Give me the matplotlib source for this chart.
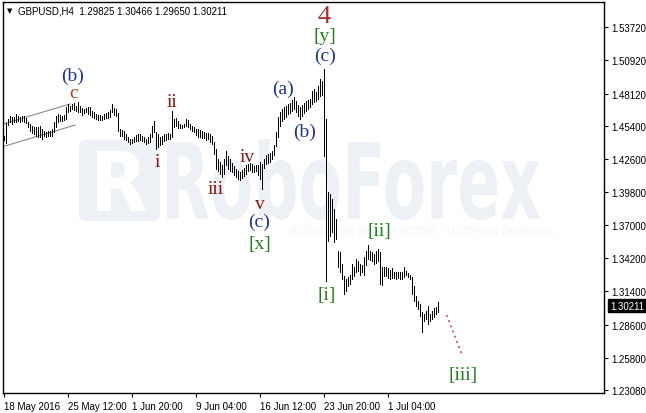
import numpy as np
import matplotlib
matplotlib.use("Agg")
import matplotlib.pyplot as plt
import matplotlib.transforms as mtransforms
from matplotlib.textpath import TextPath
from matplotlib.patches import PathPatch, FancyBboxPatch
from matplotlib.font_manager import FontProperties

# ---------------------------------------------------------------
# GBPUSD H4, one entry per bar (high / low)
# ---------------------------------------------------------------
highs = [
    1.4453, 1.4563, 1.4597, 1.4622, 1.4614, 1.4614, 1.4639, 1.4622, 1.4614, 1.4622,
    1.4622, 1.4605, 1.4572, 1.4555, 1.4538, 1.4529, 1.4529, 1.4529, 1.4538, 1.4513,
    1.4496, 1.4487, 1.4496, 1.4496, 1.4513, 1.4572, 1.4622, 1.4639, 1.4631, 1.4622,
    1.4631, 1.4698, 1.4724, 1.4707, 1.4724, 1.4732, 1.4707, 1.4741, 1.4707, 1.4690,
    1.4682, 1.4690, 1.4698, 1.4698, 1.4665, 1.4656, 1.4639, 1.4631, 1.4631, 1.4622,
    1.4639, 1.4648, 1.4656, 1.4673, 1.4724, 1.4690, 1.4682, 1.4648, 1.4513, 1.4504,
    1.4496, 1.4470, 1.4445, 1.4428, 1.4428, 1.4445, 1.4462, 1.4470, 1.4470, 1.4453,
    1.4445, 1.4428, 1.4445, 1.4470, 1.4538, 1.4580, 1.4487, 1.4470, 1.4445, 1.4453,
    1.4470, 1.4470, 1.4479, 1.4470, 1.4665, 1.4597, 1.4605, 1.4580, 1.4555, 1.4546,
    1.4555, 1.4597, 1.4589, 1.4555, 1.4538, 1.4529, 1.4513, 1.4513, 1.4504, 1.4496,
    1.4487, 1.4479, 1.4479, 1.4470, 1.4453, 1.4403, 1.4344, 1.4259, 1.4234, 1.4208,
    1.4259, 1.4327, 1.4284, 1.4259, 1.4225, 1.4200, 1.4175, 1.4158, 1.4149, 1.4166,
    1.4183, 1.4208, 1.4217, 1.4225, 1.4217, 1.4200, 1.4208, 1.4208, 1.4234, 1.4217,
    1.4259, 1.4293, 1.4301, 1.4310, 1.4327, 1.4377, 1.4487, 1.4614, 1.4656, 1.4682,
    1.4698, 1.4707, 1.4724, 1.4732, 1.4758, 1.4783, 1.4749, 1.4715, 1.4698, 1.4715,
    1.4732, 1.4749, 1.4758, 1.4766, 1.4834, 1.4850, 1.4825, 1.4876, 1.4935, 1.4918,
    1.5019, 1.4597, 1.3980, 1.3963, 1.3921, 1.3837, 1.3752, 1.3482, 1.3473, 1.3372,
    1.3270, 1.3245, 1.3262, 1.3279, 1.3372, 1.3346, 1.3414, 1.3397, 1.3372, 1.3363,
    1.3431, 1.3482, 1.3532, 1.3482, 1.3473, 1.3456, 1.3482, 1.3499, 1.3473, 1.3346,
    1.3346, 1.3346, 1.3338, 1.3321, 1.3338, 1.3304, 1.3304, 1.3304, 1.3304, 1.3304,
    1.3346, 1.3313, 1.3296, 1.3279, 1.3262, 1.3186, 1.3101, 1.3059, 1.3034, 1.2966,
    1.2949, 1.2975, 1.3017, 1.2949, 1.2975, 1.3000, 1.3008, 1.3051,
]
lows = [
    1.4420, 1.4394, 1.4546, 1.4572, 1.4555, 1.4572, 1.4572, 1.4580, 1.4572, 1.4580,
    1.4572, 1.4563, 1.4529, 1.4496, 1.4479, 1.4470, 1.4453, 1.4445, 1.4445, 1.4428,
    1.4453, 1.4445, 1.4453, 1.4453, 1.4453, 1.4487, 1.4529, 1.4572, 1.4580, 1.4580,
    1.4589, 1.4597, 1.4656, 1.4665, 1.4682, 1.4673, 1.4665, 1.4656, 1.4656, 1.4631,
    1.4648, 1.4656, 1.4639, 1.4631, 1.4614, 1.4605, 1.4597, 1.4589, 1.4589, 1.4589,
    1.4597, 1.4605, 1.4605, 1.4614, 1.4656, 1.4631, 1.4622, 1.4496, 1.4453, 1.4453,
    1.4428, 1.4420, 1.4403, 1.4386, 1.4394, 1.4403, 1.4411, 1.4411, 1.4420, 1.4411,
    1.4403, 1.4386, 1.4394, 1.4403, 1.4445, 1.4487, 1.4344, 1.4360, 1.4377, 1.4386,
    1.4411, 1.4420, 1.4428, 1.4428, 1.4445, 1.4529, 1.4538, 1.4521, 1.4521, 1.4521,
    1.4529, 1.4538, 1.4529, 1.4513, 1.4496, 1.4487, 1.4462, 1.4445, 1.4445, 1.4436,
    1.4436, 1.4420, 1.4428, 1.4403, 1.4386, 1.4301, 1.4175, 1.4158, 1.4132, 1.4107,
    1.4132, 1.4208, 1.4175, 1.4158, 1.4149, 1.4124, 1.4107, 1.4090, 1.4082, 1.4098,
    1.4115, 1.4132, 1.4158, 1.4166, 1.4149, 1.4149, 1.4158, 1.4124, 1.4090, 1.4006,
    1.4183, 1.4217, 1.4225, 1.4234, 1.4259, 1.4293, 1.4369, 1.4445, 1.4538, 1.4580,
    1.4597, 1.4614, 1.4639, 1.4648, 1.4665, 1.4682, 1.4656, 1.4622, 1.4597, 1.4622,
    1.4648, 1.4665, 1.4682, 1.4698, 1.4724, 1.4741, 1.4749, 1.4766, 1.4791, 1.4800,
    1.4284, 1.3228, 1.3566, 1.3608, 1.3642, 1.3558, 1.3583, 1.3346, 1.3304, 1.3245,
    1.3118, 1.3144, 1.3186, 1.3203, 1.3245, 1.3270, 1.3304, 1.3313, 1.3279, 1.3304,
    1.3279, 1.3363, 1.3414, 1.3406, 1.3397, 1.3372, 1.3380, 1.3397, 1.3203, 1.3194,
    1.3270, 1.3270, 1.3254, 1.3245, 1.3254, 1.3254, 1.3245, 1.3254, 1.3245, 1.3245,
    1.3262, 1.3279, 1.3262, 1.3245, 1.3118, 1.3059, 1.3017, 1.2992, 1.2932, 1.2797,
    1.2890, 1.2907, 1.2865, 1.2890, 1.2907, 1.2924, 1.2949, 1.2966,
]
assert len(highs) == len(lows)

last_price = 1.30211
header = "GBPUSD,H4  1.29825 1.30466 1.29650 1.30211"

date_idx = [0, 32, 64, 96, 128, 160, 192]
date_labels = ["18 May 2016", "25 May 12:00", "1 Jun 20:00", "9 Jun 04:00",
               "16 Jun 12:00", "23 Jun 20:00", "1 Jul 04:00"]
price_ticks = [1.53720, 1.50920, 1.48120, 1.45400, 1.42600, 1.39800,
               1.37000, 1.34200, 1.31400, 1.28600, 1.25800, 1.23080]

# wave marks: text, bar index, price
wave_text = ["(b)", "c", "i", "ii", "iii", "iv", "v", "(c)", "[x]",
             "(a)", "(b)", "(c)", "[y]", "4", "[i]", "[ii]", "[iii]"]
wave_idx = [34.5, 35, 76.5, 84, 106, 121.5, 128, 127.5, 128,
            139.5, 150.5, 160.5, 160.5, 160, 161.5, 187.5, 229.5]
wave_price = [1.4969, 1.4825, 1.4242, 1.4741, 1.4006, 1.4284, 1.3887, 1.3735, 1.3549,
              1.4859, 1.4496, 1.5138, 1.5307, 1.5467, 1.3118, 1.3659, 1.2442]

# channel around (b) and the forecast leg
chan_upper = ([-0.5, 33], [1.4555, 1.4724])
chan_lower = ([0.5, 35.5], [1.4369, 1.4546])
forecast = ([221.3, 229.3], [1.2941, 1.2594])

BLUE, RED, BROWN, GREEN = "#1f3393", "#8b1414", "#b8401c", "#22801e"
wave_color = [BLUE, BROWN, RED, RED, RED, RED, RED, BLUE, GREEN,
              BLUE, BLUE, BLUE, GREEN, "#a8302a", GREEN, GREEN, GREEN]

W, H = 646, 414
fig = plt.figure(figsize=(W / 100, H / 100), dpi=100)
ax = fig.add_axes([3 / W, 20 / H, 601 / W, 391 / H])
ident = mtransforms.IdentityTransform()

# --- watermark (pixel space) ---
WM = "#edf0f5"
ax.add_patch(FancyBboxPatch((79, H - 222), 81, 81, boxstyle="round,pad=0,rounding_size=7",
                            fc=WM, ec="none", transform=ident, zorder=1))


def fit_text(s, x0, x1, ytop, ybot, color, weight="bold", family="DejaVu Sans"):
    tp = TextPath((0, 0), s, size=100, prop=FontProperties(family=family, weight=weight))
    e = tp.get_extents()
    tr = (mtransforms.Affine2D().translate(-e.x0, -e.y0)
          .scale((x1 - x0) / e.width, (ybot - ytop) / e.height).translate(x0, H - ybot))
    ax.add_patch(PathPatch(tr.transform_path(tp), fc=color, ec="none",
                           transform=ident, zorder=1))


fit_text("R", 97, 146, 152, 212, "white")
fit_text("RoboForex", 167, 540, 140, 221, WM)
fit_text("ИСПОЛЬЗУЙ МИКРО ЛОТОВ – ПОЛУЧАЙ ПРИБЫЛЬ", 290, 553, 226, 236, "#f3f5f8",
         weight="normal")

# --- bars ---
x = np.arange(len(highs))
ax.vlines(x, lows, highs, color="black", lw=0.72, antialiased=False, zorder=3)

ax.plot(*chan_upper, color="#8a8a8a", lw=0.8, zorder=2)
ax.plot(*chan_lower, color="#8a8a8a", lw=0.8, zorder=2)
ax.plot(*forecast, color="#e8194b", lw=1.0, ls=(0, (1.5, 2.5)), zorder=2)

for t, xi, yi, c in zip(wave_text, wave_idx, wave_price, wave_color):
    ax.text(xi, yi, t, color=c, fontsize=19 if t == "4" else 14,
            family="Liberation Serif", ha="center", va="center", zorder=4)

ax.set_xlim(-0.5, 300)
ax.set_ylim(1.2282, 1.5586)

# --- axes look (MT4 style) ---
for s in ax.spines.values():
    s.set_linewidth(1.0)
    s.set_color("black")
ax.yaxis.tick_right()
ax.set_yticks(price_ticks)
ax.set_yticklabels([f"{p:.5f}" for p in price_ticks])
ax.set_xticks(date_idx)
ax.set_xticklabels(date_labels)
for lbl in ax.get_xticklabels():
    lbl.set_ha("left")
for lbl in ax.get_xticklabels() + ax.get_yticklabels():
    lbl.set_family("Liberation Sans")
    lbl.set_fontsize(7)
ax.tick_params(axis="both", direction="out", length=3, width=0.8, pad=2)
ax.tick_params(axis="x", pad=3)

ax.text(1.0 + 6 / 601, last_price, f"{last_price:.5f}", transform=ax.get_yaxis_transform(),
        color="white", fontsize=7, family="Liberation Sans", ha="left", va="center",
        bbox=dict(boxstyle="square,pad=0.2", fc="black", ec="black"), clip_on=False, zorder=5)

fig.text(7 / W, 1 - 11 / H, "▼", fontsize=5, family="DejaVu Sans", va="center")
fig.text(18 / W, 1 - 11 / H, header, fontsize=7, family="Liberation Sans", va="center")

fig.savefig("out.png", dpi=100)
